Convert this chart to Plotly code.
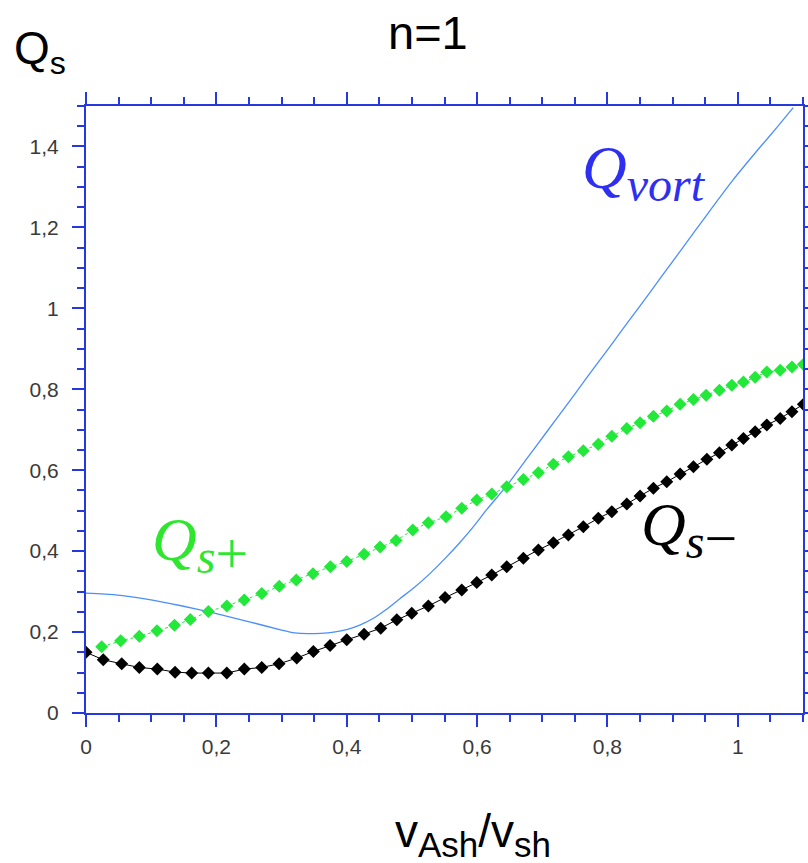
import plotly.graph_objects as go

# Q_s- (black diamonds)
qs_minus_x = [0.0, 0.0265, 0.0548, 0.0818, 0.1094, 0.1366, 0.1622, 0.1877, 0.216, 0.2429,
              0.2696, 0.2962, 0.3233, 0.3488, 0.3744, 0.4, 0.4266, 0.4522, 0.4768, 0.4998,
              0.5253, 0.5509, 0.5765, 0.5995, 0.6225, 0.6455, 0.671, 0.694, 0.717, 0.740,
              0.763, 0.786, 0.8067, 0.8297, 0.850, 0.8705, 0.891, 0.9115, 0.9319, 0.9525,
              0.9718, 0.9908, 1.0086, 1.0266, 1.0445, 1.065, 1.083, 1.1006]
qs_minus_y = [0.150, 0.1315, 0.1216, 0.1125, 0.1085, 0.101, 0.0987, 0.0987, 0.0987, 0.1085,
              0.1125, 0.1216, 0.1357, 0.152, 0.1668, 0.1808, 0.1949, 0.2097, 0.2302, 0.2467,
              0.2647, 0.2852, 0.3042, 0.3222, 0.3412, 0.3617, 0.3824, 0.403, 0.421, 0.440,
              0.4604, 0.481, 0.4976, 0.5165, 0.5363, 0.5553, 0.5716, 0.5905, 0.6085, 0.6268,
              0.6431, 0.6621, 0.6786, 0.695, 0.7116, 0.728, 0.7445, 0.7627]

# Q_s+ (green diamonds)
qs_plus_x = [0.0241, 0.0532, 0.0818, 0.1089, 0.1358, 0.16, 0.1877, 0.216, 0.2428, 0.2696,
             0.2965, 0.3227, 0.3483, 0.3749, 0.4, 0.4266, 0.4511, 0.4757, 0.5013, 0.5252,
             0.5524, 0.5765, 0.5995, 0.6225, 0.6455, 0.671, 0.694, 0.717, 0.740, 0.763,
             0.786, 0.8067, 0.8297, 0.850, 0.8705, 0.891, 0.9115, 0.9319, 0.9514, 0.9718,
             0.9908, 1.0086, 1.0266, 1.0445, 1.065, 1.083, 1.1006]
qs_plus_y = [0.1636, 0.1783, 0.1894, 0.203, 0.2166, 0.2309, 0.2506, 0.2647, 0.2795, 0.295,
             0.3133, 0.3288, 0.3444, 0.3616, 0.3744, 0.392, 0.4102, 0.4262, 0.4521, 0.4702,
             0.485, 0.5057, 0.5262, 0.541, 0.559, 0.5772, 0.5935, 0.615, 0.633, 0.6478,
             0.664, 0.684, 0.703, 0.717, 0.7334, 0.7464, 0.763, 0.7745, 0.785, 0.7975,
             0.81, 0.818, 0.830, 0.8426, 0.8468, 0.855, 0.8616]

# Q_vort (thin blue line)
qvort_x = [0.0, 0.045, 0.095, 0.146, 0.197, 0.249, 0.300, 0.320, 0.340, 0.360, 0.380, 0.400,
           0.420, 0.441, 0.460, 0.482, 0.505, 0.528, 0.551, 0.574, 0.595, 0.615, 0.6455,
           0.676, 0.707, 0.738, 0.768, 0.799, 0.820, 0.850, 0.880, 0.912, 0.952, 0.993,
           1.034, 1.060, 1.085]
qvort_y = [0.296, 0.292, 0.281, 0.265, 0.247, 0.226, 0.205, 0.198, 0.196, 0.197, 0.200, 0.206,
           0.217, 0.234, 0.255, 0.283, 0.312, 0.345, 0.382, 0.422, 0.462, 0.503, 0.562,
           0.628, 0.695, 0.762, 0.828, 0.895, 0.941, 1.006, 1.072, 1.142, 1.230, 1.318,
           1.398, 1.447, 1.496]

AXIS = "#2638e0"

fig = go.Figure()
fig.add_trace(go.Scatter(x=qvort_x, y=qvort_y, mode="lines",
                         line=dict(color="#4a8ffc", width=1.3, shape="spline", smoothing=0.5),
                         showlegend=False))
fig.add_trace(go.Scatter(x=qs_plus_x, y=qs_plus_y, mode="lines+markers",
                         line=dict(color="#22e83a", width=1, dash="dot"),
                         marker=dict(symbol="diamond", size=10, color="#22e83a"),
                         showlegend=False))
fig.add_trace(go.Scatter(x=qs_minus_x, y=qs_minus_y, mode="lines+markers",
                         line=dict(color="#000000", width=1),
                         marker=dict(symbol="diamond", size=10, color="#000000"),
                         showlegend=False))

axis_common = dict(
    showline=True, linecolor=AXIS, linewidth=2, mirror="allticks",
    ticks="outside", tickcolor=AXIS, tickwidth=2, ticklen=12,
    showgrid=False, zeroline=False, automargin=False,
    tickfont=dict(family="Liberation Sans, Arial", size=21, color="#3a3a3a"),
    minor=dict(ticks="outside", ticklen=7, tickcolor=AXIS, tickwidth=2, showgrid=False),
)

fig.update_xaxes(range=[0, 1.1], dtick=0.2, tick0=0, ticklabelstandoff=2, **axis_common)
fig.update_xaxes(minor_dtick=0.05)
fig.update_yaxes(range=[0, 1.5], dtick=0.2, tick0=0, ticklabelstandoff=9, **axis_common)
fig.update_yaxes(minor_dtick=0.05)

W, H = 808, 863
L, R, T, B = 86, 5, 106, 150
pw, ph = W - L - R, H - T - B


def px(xp):
    return (xp - L) / pw


def py(yp):
    return (H - B - yp) / ph


sans = "Liberation Sans, Arial"
serif = "Liberation Serif, Times New Roman"


def mathlabel(sub, op=""):
    s = "<i>Q</i><sub><i><span style='font-size:48px'>%s</span></i>" % sub
    if op:
        s += "<span style='font-size:58px'>%s</span>" % op
    return s + "</sub>"


annotations = [
    dict(text="n=1", x=px(428), y=py(32), font=dict(family=sans, size=47, color="black"),
         xanchor="center", yanchor="middle"),
    dict(text="Q<sub>s</sub>", x=px(12), y=py(52), font=dict(family=sans, size=46, color="black"),
         xanchor="left", yanchor="middle"),
    dict(text="v<sub><span style='font-size:35px'>Ash</span></sub>/v<sub><span style='font-size:35px'>sh</span></sub>",
         x=px(473), y=py(834),
         font=dict(family=sans, size=46, color="black"), xanchor="center", yanchor="middle"),
    dict(text=mathlabel("vort"), x=px(580), y=py(172),
         font=dict(family=serif, size=62, color="#2f2ff2"), xanchor="left", yanchor="middle"),
    dict(text=mathlabel("s", "+"), x=px(150), y=py(545),
         font=dict(family=serif, size=62, color="#2fe62f"), xanchor="left", yanchor="middle"),
    dict(text=mathlabel("s", "−"), x=px(639), y=py(530),
         font=dict(family=serif, size=62, color="black"), xanchor="left", yanchor="middle"),
]
for a in annotations:
    a.update(xref="paper", yref="paper", showarrow=False)

fig.update_layout(
    width=W, height=H,
    margin=dict(l=L, r=R, t=T, b=B, pad=0),
    paper_bgcolor="white", plot_bgcolor="white",
    separators=", ",
    annotations=annotations,
)

fig.write_html("out.html", config={"displayModeBar": False},
               post_script="document.body.style.margin='0';document.body.style.overflow='hidden';")
